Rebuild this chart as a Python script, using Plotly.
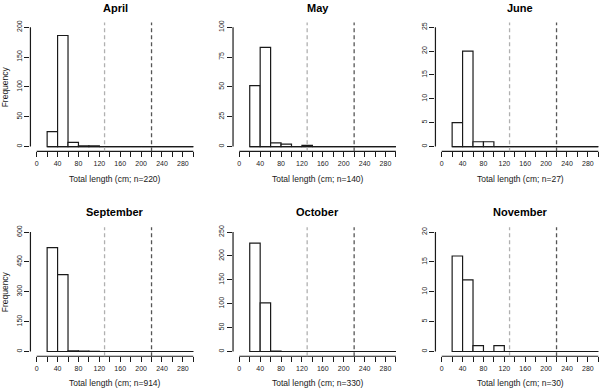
import plotly.graph_objects as go

# ---------------- data ----------------
bin_edges = list(range(20, 301, 20))          # histogram bin edges (cm)
months = ["April", "May", "June", "September", "October", "November"]
april = [25, 186, 7, 1, 1, 0, 0, 0, 0, 0, 0, 0, 0, 0]
may = [51, 83, 3, 2, 0, 1, 0, 0, 0, 0, 0, 0, 0, 0]
june = [5, 20, 1, 1, 0, 0, 0, 0, 0, 0, 0, 0, 0, 0]
september = [522, 386, 3, 2, 1, 0, 0, 0, 0, 0, 0, 0, 0, 0]
october = [227, 102, 1, 0, 0, 0, 0, 0, 0, 0, 0, 0, 0, 0]
november = [16, 12, 1, 0, 1, 0, 0, 0, 0, 0, 0, 0, 0, 0]
counts = [april, may, june, september, october, november]
sample_sizes = [220, 140, 27, 914, 330, 30]
y_max = [200, 100, 25, 600, 250, 20]
y_step = [50, 25, 5, 150, 50, 5]
x_ticks = list(range(0, 301, 20))
x_tick_labels = [str(v) if v % 40 == 0 else "" for v in x_ticks]
ref_lines = [130, 220]
ref_colors = ["#b0b0b0", "#555555"]

# ---------------- layout geometry ----------------
W, H = 600, 389
col_x0 = [36.7, 239.3, 441.7]      # pixel of x = 0
row_y0 = [145.3, 351.3]            # pixel of y = 0
sx = 156.6 / 300.0                 # px per cm
yh = 120.0                         # px from 0 to y max
title_y = [6.0, 211.0]
xtitle_y = [177.7, 382.7]
FONT = "Liberation Sans, Arial, Helvetica, sans-serif"
INK = "#1a1a1a"

bin_centers = [(a + b) / 2 for a, b in zip(bin_edges[:-1], bin_edges[1:])]
bin_width = bin_edges[1] - bin_edges[0]

fig = go.Figure()
shapes = []
annotations = []
layout = {}

for i, (name, cnt) in enumerate(zip(months, counts)):
    r, c = divmod(i, 3)
    k = "" if i == 0 else str(i + 1)
    xa, ya = "x" + k, "y" + k
    x0 = col_x0[c]
    left = x0 - 12 * sx
    right = min(W, x0 + 312 * sx)
    xr = [-12, (right - x0) / sx]
    top = row_y0[r] - 1.04 * yh
    bottom = row_y0[r] + 0.04 * yh
    ym = y_max[i]

    fig.add_trace(go.Scatter(
        x=[bin_edges[0], bin_edges[-1]], y=[0, 0], mode="lines",
        line=dict(color=INK, width=1.2), xaxis=xa, yaxis=ya,
        showlegend=False, hoverinfo="skip"))
    fig.add_trace(go.Bar(
        x=bin_centers, y=cnt, width=bin_width,
        marker=dict(color="white", line=dict(color=INK, width=1.2)),
        xaxis=xa, yaxis=ya, showlegend=False))

    layout["xaxis" + k] = dict(
        domain=[left / W, right / W], range=xr, anchor=ya,
        showgrid=False, zeroline=False, showline=False,
        ticks="outside", ticklen=5, tickwidth=1, tickcolor=INK,
        tickvals=x_ticks, ticktext=x_tick_labels,
        tickfont=dict(size=7, color=INK, family=FONT), fixedrange=True)
    layout["yaxis" + k] = dict(
        domain=[1 - bottom / H, 1 - top / H], range=[-0.04 * ym, 1.04 * ym],
        anchor=xa, showgrid=False, zeroline=False, showline=False,
        ticks="outside", ticklen=5, tickwidth=1, tickcolor=INK,
        tickvals=list(range(0, ym + 1, y_step[i])), tickangle=-90,
        tickfont=dict(size=7, color=INK, family=FONT), fixedrange=True)

    # axis lines (R style: only across tick range)
    shapes.append(dict(type="line", xref=xa, yref=ya + " domain",
                       x0=x_ticks[0], x1=x_ticks[-1], y0=0, y1=0,
                       line=dict(color=INK, width=1.2)))
    shapes.append(dict(type="line", xref=xa + " domain", yref=ya,
                       x0=0, x1=0, y0=0, y1=ym,
                       line=dict(color=INK, width=1.2)))
    # reference dashed lines
    for xv, col in zip(ref_lines, ref_colors):
        shapes.append(dict(type="line", xref=xa, yref=ya + " domain",
                           x0=xv, x1=xv, y0=0, y1=1,
                           line=dict(color=col, width=1.3, dash="4px,3px")))

    cx = (left + (x0 + 312 * sx)) / 2
    annotations.append(dict(text="<b>%s</b>" % name, xref="paper", yref="paper",
                            x=cx / W, y=1 - title_y[r] / H, showarrow=False,
                            xanchor="center", yanchor="middle",
                            font=dict(size=11, color="black", family=FONT)))
    annotations.append(dict(text="Total length (cm; n=%d)" % sample_sizes[i],
                            xref="paper", yref="paper",
                            x=(x0 + 150 * sx) / W, y=1 - xtitle_y[r] / H,
                            showarrow=False, xanchor="center", yanchor="middle",
                            font=dict(size=8.5, color=INK, family=FONT)))
    if c == 0:
        annotations.append(dict(text="Frequency", xref="paper", yref="paper",
                                x=4.5 / W, y=1 - ((top + bottom) / 2) / H,
                                textangle=-90, showarrow=False,
                                xanchor="center", yanchor="middle",
                                font=dict(size=8.5, color=INK, family=FONT)))

fig.update_layout(
    width=W, height=H, margin=dict(l=0, r=0, t=0, b=0),
    paper_bgcolor="white", plot_bgcolor="white",
    shapes=shapes, annotations=annotations, barmode="overlay",
    font=dict(family=FONT), **layout)

fig.write_html("out.html",
               config={"displayModeBar": False, "staticPlot": True},
               post_script="document.body.style.margin='0px';"
                           "document.body.style.overflow='hidden';")
